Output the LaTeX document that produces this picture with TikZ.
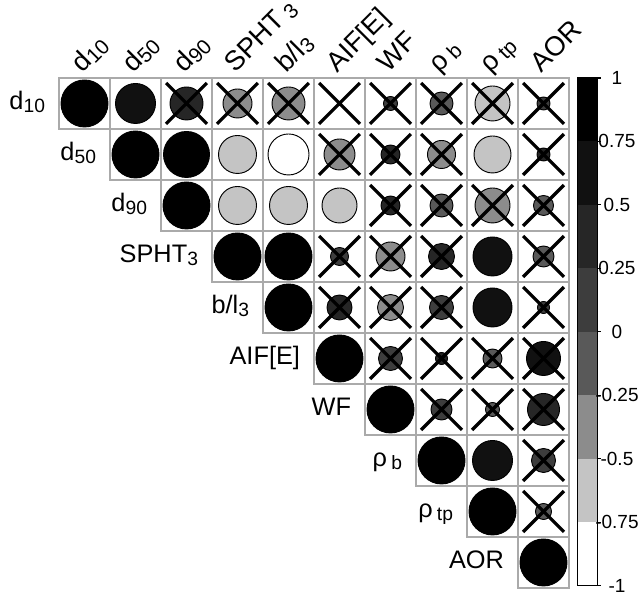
\documentclass[tikz,border=0pt]{standalone}
\usepackage{fontspec}
\usepackage{graphicx}
\setmainfont{Liberation Sans}
\usetikzlibrary{positioning}
\definecolor{bandA}{RGB}{0,0,0}
\definecolor{bandB}{RGB}{17,17,17}
\definecolor{bandC}{RGB}{38,38,38}
\definecolor{bandD}{RGB}{61,61,61}
\definecolor{bandE}{RGB}{89,89,89}
\definecolor{bandF}{RGB}{140,140,140}
\definecolor{bandG}{RGB}{196,196,196}
\definecolor{bandH}{RGB}{255,255,255}
\definecolor{gridgray}{RGB}{170,170,170}
\newcommand\lsub[1]{\raisebox{-0.1em}{\scalebox{0.76}{#1}}}

\begin{document}
\begin{tikzpicture}[x=38.25pt,y=38.25pt,
  cellbox/.style={draw=gridgray,line width=1.4pt,fill=white},
  corrdot/.style={draw=black,line width=0.7pt},
  nosig/.style={draw=black,line width=2.4pt},
  varlabel/.style={inner sep=0pt,font=\fontsize{19}{20}\selectfont},
  toplabel/.style={inner sep=0pt,font=\fontsize{20.5}{21}\selectfont},
  barlabel/.style={inner sep=0pt,font=\fontsize{14.25}{15}\selectfont}]
  \useasboundingbox (-1.157,1.529) rectangle (11.451,-10.098);
  % upper triangle of cells
  \foreach \i in {0,...,9}
    \foreach \j in {\i,...,9}
      \draw[cellbox] (\j,-\i) rectangle ++(1,-1);
  % row/col/diameter in px/colour/crossed out
  \foreach \i/\j/\d/\col/\x in {
    0/0/47/bandA/0, 0/1/40/bandB/0, 0/2/33/bandC/1, 0/3/29/bandF/1, 0/4/33/bandF/1,
    0/5/2/bandE/1, 0/6/14/bandD/1, 0/7/23/bandE/1, 0/8/35/bandG/1, 0/9/13/bandD/1,
    1/1/47/bandA/0, 1/2/46/bandA/0, 1/3/38/bandG/0, 1/4/41/bandH/0, 1/5/31/bandF/1,
    1/6/19/bandC/1, 1/7/28/bandF/1, 1/8/37/bandG/0, 1/9/13/bandC/1,
    2/2/47/bandA/0, 2/3/38/bandG/0, 2/4/38/bandG/0, 2/5/35/bandG/0, 2/6/19/bandC/1,
    2/7/23/bandE/1, 2/8/35/bandF/1, 2/9/20/bandE/1,
    3/3/47/bandA/0, 3/4/47/bandA/0, 3/5/18/bandD/1, 3/6/29/bandF/1, 3/7/26/bandC/1,
    3/8/39/bandB/0, 3/9/21/bandE/1,
    4/4/47/bandA/0, 4/5/25/bandC/1, 4/6/26/bandF/1, 4/7/24/bandD/1, 4/8/39/bandB/0,
    4/9/12/bandD/1,
    5/5/47/bandA/0, 5/6/24/bandD/1, 5/7/12/bandC/1, 5/8/19/bandE/1, 5/9/34/bandB/1,
    6/6/47/bandA/0, 6/7/21/bandD/1, 6/8/14/bandE/1, 6/9/32/bandC/1,
    7/7/47/bandA/0, 7/8/40/bandB/0, 7/9/24/bandD/1,
    8/8/47/bandA/0, 8/9/16/bandE/1,
    9/9/47/bandA/0}{
    \draw[corrdot,fill=\col] (\j+0.5,-\i-0.5) circle[radius=\d/102];
    \ifnum\x=1
      \draw[nosig] (\j+0.1,-\i-0.1) -- (\j+0.9,-\i-0.9)
                   (\j+0.9,-\i-0.1) -- (\j+0.1,-\i-0.9);
    \fi
  }
  % variable names
  \foreach \k/\rname/\cname in {
    0/{d\lsub{10}}/{d\lsub{10}}, 1/{d\lsub{50}}/{d\lsub{50}}, 2/{d\lsub{90}}/{d\lsub{90}},
    3/{SPHT\lsub{3}}/{SPHT\,\lsub{3}}, 4/{b/l\lsub{3}}/{b/l\lsub{3}},
    5/{AIF[E]}/{AIF[E]}, 6/{WF}/{WF}, 7/{ρ\,\lsub{b}}/{ρ\,\lsub{b}},
    8/{ρ\,\lsub{tp}}/{ρ\,\lsub{tp}}, 9/{AOR}/{AOR}}{
    \node[varlabel,anchor=base east] (row\k) at (\k-0.27,-\k-0.62) {\rname};
    \node[toplabel,anchor=base west,rotate=45] (col\k) at (\k+0.45,0.09) {\cname};
  }
  % colour key
  \foreach \b/\col in {0/bandA,1/bandB,2/bandC,3/bandD,4/bandE,5/bandF,6/bandG,7/bandH}
    \fill[\col] (10.163,-\b*1.2444) rectangle (10.555,-\b*1.2444-1.2444);
  \draw[line width=0.8pt] (10.163,0) rectangle (10.555,-9.955);
  \foreach \t/\lab in {0/1,1/0.75,2/0.5,3/0.25,4/0,5/-0.25,6/-0.5,7/-0.75,8/-1}{
    \draw[line width=0.8pt] (10.555,-\t*1.2444) -- ++(0.07,0);
    \node[barlabel] (tick\t) at (10.94,-\t*1.2444) {\lab};
  }
\end{tikzpicture}
\end{document}
